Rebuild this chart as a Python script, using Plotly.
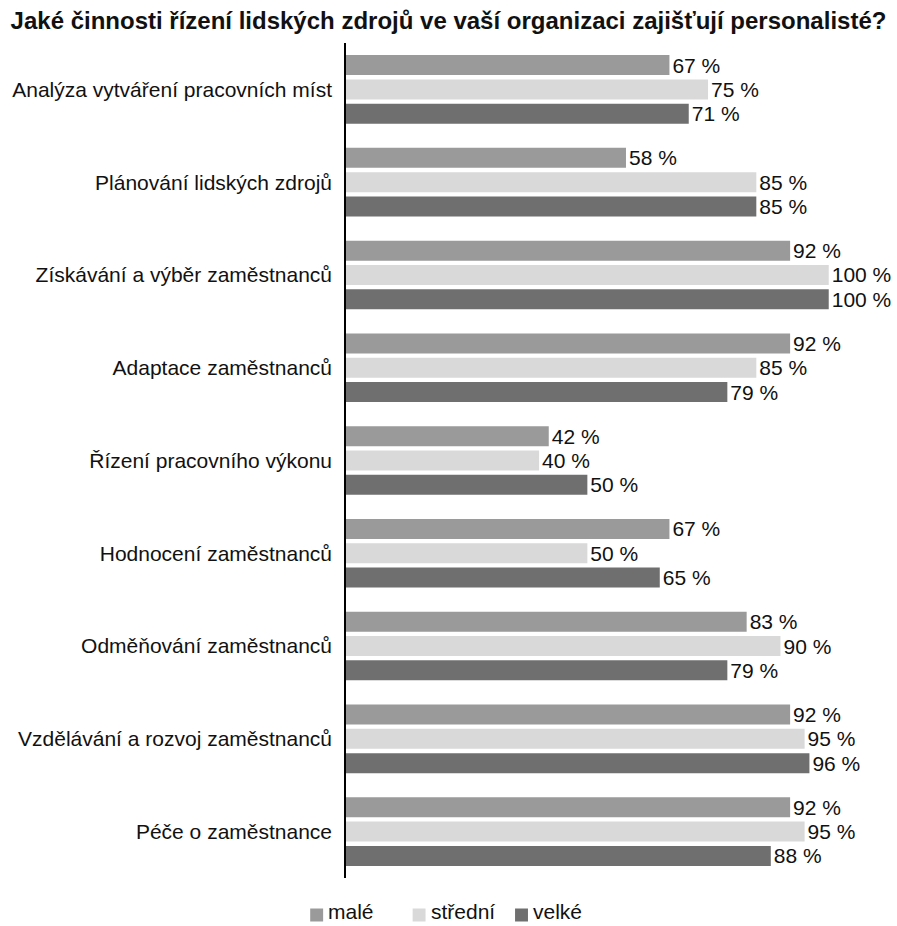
import plotly.graph_objects as go

categories = [
    "Analýza vytváření pracovních míst",
    "Plánování lidských zdrojů",
    "Získávání a výběr zaměstnanců",
    "Adaptace zaměstnanců",
    "Řízení pracovního výkonu",
    "Hodnocení zaměstnanců",
    "Odměňování zaměstnanců",
    "Vzdělávání a rozvoj zaměstnanců",
    "Péče o zaměstnance",
]
male = [67, 58, 92, 92, 42, 67, 83, 92, 92]
stredni = [75, 85, 100, 85, 40, 50, 90, 95, 95]
velke = [71, 85, 100, 79, 50, 65, 79, 96, 88]

series_names = ["malé", "střední", "velké"]
series_values = [male, stredni, velke]
series_colors = ["#9a9a9a", "#d9d9d9", "#6f6f6f"]

FONT = "Liberation Sans, Arial, sans-serif"
TXT = "#111111"

W, H = 897, 926
M_L, M_R, M_T, M_B = 343, 20, 43, 48

fig = go.Figure()
for name, vals, color in zip(series_names, series_values, series_colors):
    fig.add_trace(go.Bar(
        y=categories,
        x=vals,
        name=name,
        orientation="h",
        marker=dict(color=color, line=dict(width=0)),
        text=[f"{v} %" for v in vals],
        textposition="outside",
        constraintext="none",
        textfont=dict(family=FONT, size=21, color=TXT),
        cliponaxis=False,
        showlegend=False,
    ))

# Legend row below the plot: small square swatch followed by its label
plot_w = W - M_L - M_R
plot_h = H - M_T - M_B
legend_px = [307, 410, 513]      # left edge of each swatch, in pixels
swatch_cy = 915                  # vertical centre of the swatches
label_cy = 911                   # vertical centre of the label boxes
sw = 13


def px_x(px):
    return (px - M_L) / plot_w


def px_y(py):
    return (H - M_B - py) / plot_h


for name, color, lx in zip(series_names, series_colors, legend_px):
    fig.add_shape(
        type="rect", xref="paper", yref="paper",
        x0=px_x(lx), x1=px_x(lx + sw),
        y0=px_y(swatch_cy + sw / 2), y1=px_y(swatch_cy - sw / 2),
        fillcolor=color, line=dict(width=0),
    )
    fig.add_annotation(
        xref="paper", yref="paper",
        x=px_x(lx + sw + 4), y=px_y(label_cy),
        xanchor="left", yanchor="middle",
        text=name, showarrow=False, borderpad=0,
        font=dict(family=FONT, size=21, color=TXT),
    )

fig.update_layout(
    width=W,
    height=H,
    paper_bgcolor="white",
    plot_bgcolor="white",
    barmode="group",
    bargap=0.214,
    bargroupgap=0.177,
    margin=dict(l=M_L, r=M_R, t=M_T, b=M_B),
    showlegend=False,
    title=dict(
        text="<b>Jaké činnosti řízení lidských zdrojů ve vaší organizaci zajišťují personalisté?</b>",
        x=0.5,
        xanchor="center",
        y=0.978,
        yanchor="middle",
        font=dict(family=FONT, size=24, color=TXT),
    ),
    font=dict(family=FONT, size=21, color=TXT),
    xaxis=dict(
        range=[0, 110],
        visible=False,
        showgrid=False,
        zeroline=False,
    ),
    yaxis=dict(
        autorange="reversed",
        showgrid=False,
        showline=True,
        linecolor="#000000",
        linewidth=1.5,
        ticks="",
        ticklabelstandoff=8,
        tickfont=dict(family=FONT, size=21, color=TXT),
    ),
)

fig.write_html("out.html")
